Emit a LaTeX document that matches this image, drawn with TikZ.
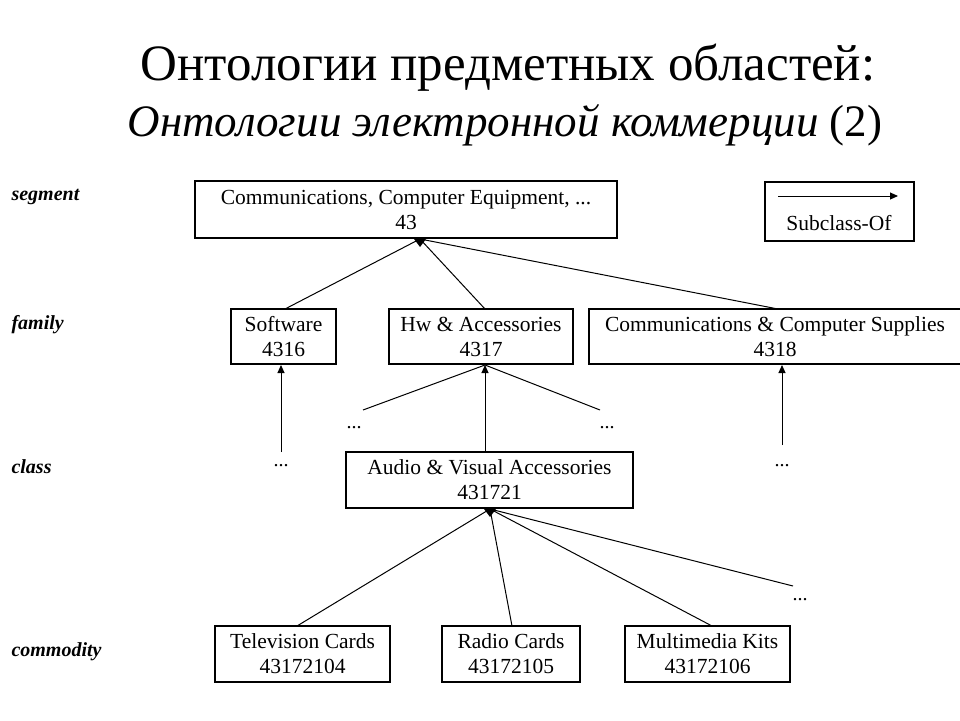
\documentclass[tikz,border=0pt]{standalone}
\usepackage{fontspec}
\setmainfont{Liberation Serif}
\usetikzlibrary{arrows.meta}
\begin{document}
\begin{tikzpicture}[x=1pt,y=-1pt,
  box/.style={draw,line width=1.2pt,align=center,font=\fontsize{21.5}{25}\selectfont,inner sep=0pt},
  lvl/.style={anchor=west,font=\bfseries\itshape\fontsize{20}{22}\selectfont},
  ln/.style={line width=1pt},
  arr/.style={line width=1pt,-{Triangle[length=8pt,width=7pt]}},
  dots/.style={font=\fontsize{20}{22}\selectfont}]
\useasboundingbox (0,0) rectangle (960,720);
\node at (508,68) {\fontsize{51}{54}\selectfont Онтологии предметных областей:};
\node at (505,125) {\fontsize{45}{48}\selectfont\itshape Онтологии электронной коммерции \upshape(2)};
\node[lvl] at (8,197) {segment};
\node[lvl] at (8,325) {family};
\node[lvl] at (8,467) {class};
\node[lvl] at (8,652) {commodity};
\node[box,minimum width=422,minimum height=57] (seg) at (406,209.5) {Communications, Computer Equipment, ...\\43};
\node[box,minimum width=149,minimum height=59] (leg) at (839.5,211.5) {};
\coordinate (la) at (778,196); \coordinate (lb) at (898,196);
\draw[arr] (la) -- (lb);
\node[font=\fontsize{21.5}{25}\selectfont] (legt) at (839,223) {Subclass-Of};
\node[box,minimum width=105,minimum height=55] (sw) at (283.5,336.5) {Software\\4316};
\node[box,minimum width=184,minimum height=55] (hw) at (481,336.5) {Hw \& Accessories\\4317};
\node[box,minimum width=372,minimum height=55] (cs) at (775,336.5) {Communications \& Computer Supplies\\4318};
\node[box,minimum width=287,minimum height=56] (av) at (489.5,480) {Audio \& Visual Accessories\\431721};
\node[box,minimum width=175,minimum height=56] (tv) at (302.5,654) {Television Cards\\43172104};
\node[box,minimum width=138,minimum height=56] (rc) at (511,654) {Radio Cards\\43172105};
\node[box,minimum width=165,minimum height=56] (mm) at (707.5,654) {Multimedia Kits\\43172106};
\coordinate (st) at (420,239);
\draw[ln] (285,309) -- (st);
\draw[ln] (485,309) -- (st);
\draw[ln] (778,309) -- (st);
\fill (st) -- ++(-6,0) -- ++(6,8) -- ++(6,-8) -- cycle;
\coordinate (hb) at (485,365);
\draw[arr] (av.north -| hb) -- (hb);
\coordinate (h1) at (363,410); \coordinate (h2) at (600,410);
\draw[ln] (h1) -- (hb); \draw[ln] (h2) -- (hb);
\node[dots] (d1) at (354,428) {...};
\node[dots] (d2) at (607,428) {...};
\coordinate (sb) at (281,365); \coordinate (s0) at (281,452);
\draw[arr] (s0) -- (sb);
\node[dots] (d3) at (281,466) {...};
\coordinate (cb) at (782,365); \coordinate (c0) at (782,445);
\draw[arr] (c0) -- (cb);
\node[dots] (d4) at (782,466) {...};
\coordinate (ab) at (490,509);
\draw[ln] (297,626) -- (ab);
\draw[ln] (512,626) -- (ab);
\draw[ln] (712,626) -- (ab);
\coordinate (m1) at (793,586);
\draw[ln] (m1) -- (ab);
\fill (ab) -- ++(-6,0) -- ++(6,8) -- ++(6,-8) -- cycle;
\node[dots] (d5) at (800,600) {...};
\end{tikzpicture}
\end{document}
